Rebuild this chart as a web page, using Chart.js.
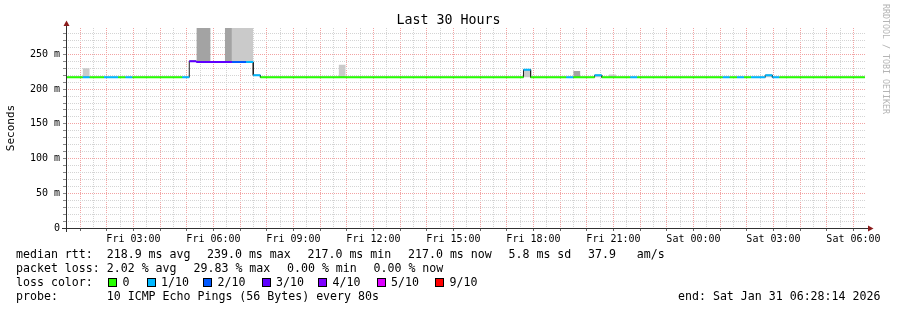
<!DOCTYPE html>
<html lang="en">
<head>
<meta charset="UTF-8">
<title>Last 30 Hours</title>
<script src="https://cdn.jsdelivr.net/npm/chart.js@4"></script>
<style>
  body { margin: 0; background: #fff; }
  #wrap { position: relative; width: 897px; height: 310px; font-family: 'DejaVu Sans Mono', monospace; }
  #wrap canvas { position: absolute; left: 0; top: 0; }
  .t { position: absolute; font-size: 11.6px; line-height: 14px; white-space: pre; color: #000; }
  .sw { position: absolute; top: 278px; width: 7px; height: 7px; border: 1px solid #000; }
  #title { position: absolute; left: 0; top: 12px; width: 897px; text-align: center; font-size: 13.3px; line-height: 16px; }
  #wm { position: absolute; left: 881px; top: 4px; writing-mode: vertical-rl; font-size: 8.3px; color: #b4b4b4; white-space: pre; }
</style>
</head>
<body>
<div id="wrap">
  <canvas id="pingChart" width="897" height="310"></canvas>
  <div id="title">Last 30 Hours</div>
  <div id="wm">RRDTOOL / TOBI OETIKER</div>

  <div class="t" style="left:16px;top:247px">median rtt:  218.9 ms avg</div>
  <div class="t" style="left:207px;top:247px">239.0 ms max</div>
  <div class="t" style="left:307.5px;top:247px">217.0 ms min</div>
  <div class="t" style="left:408px;top:247px">217.0 ms now</div>
  <div class="t" style="left:508.5px;top:247px">5.8 ms sd</div>
  <div class="t" style="left:588px;top:247px">37.9   am/s</div>

  <div class="t" style="left:16px;top:261px">packet loss: 2.02 % avg</div>
  <div class="t" style="left:193.5px;top:261px">29.83 % max</div>
  <div class="t" style="left:287px;top:261px">0.00 % min</div>
  <div class="t" style="left:373.5px;top:261px">0.00 % now</div>

  <div class="t" style="left:16px;top:275px">loss color:</div>
  <div id="lossLegend"></div>

  <div class="t" style="left:16px;top:289px">probe:       10 ICMP Echo Pings (56 Bytes) every 80s</div>
  <div class="t" style="left:678px;top:289px">end: Sat Jan 31 06:28:14 2026</div>
</div>

<script>
// time is in minutes after Fri 00:00, the graph shows the last 30 hours up to Sat 06:28:14
const viewStart = 28.23;
const viewEnd = 1828.23;

// median rtt: one entry per 16 min step where the value or the loss changes
const stepStart = [28.23, 65.6, 81.6, 113.6, 145.6, 161.6, 177.6, 289.6, 305.6, 321.6,
                   401.6, 433.6, 449.6, 465.6, 1057.6, 1073.6, 1153.6, 1169.6, 1217.6, 1233.6,
                   1297.6, 1313.6, 1505.6, 1521.6, 1537.6, 1553.6, 1569.6, 1601.6, 1617.6, 1633.6];
const dataEnd = 1825.6;
const medianMs = [217, 217, 217, 217, 217, 217, 217, 217, 240, 239,
                  239, 239, 220, 217, 228, 217, 217, 217, 220, 217,
                  217, 217, 217, 217, 217, 217, 217, 220, 217, 217];
const lossTenths = [0, 1, 0, 1, 0, 1, 0, 1, 3, 3,
                    2, 1, 1, 0, 1, 0, 1, 0, 1, 0,
                    1, 0, 1, 0, 1, 0, 1, 1, 1, 0];

// smoke (spread of the single pings) where it is visible
const smokeStart   = [65.6, 305.6, 321.6, 385.6, 401.6, 641.6, 1057.6, 1169.6, 1217.6, 1249.6, 1601.6];
const smokeEnd     = [81.6, 321.6, 353.6, 401.6, 449.6, 657.6, 1073.6, 1185.6, 1233.6, 1265.6, 1617.6];
const smokeLoMs    = [217, 240, 239, 239, 239, 217, 217, 217, 217, 217, 217];
const smokeHiMs    = [230, 242, 300, 300, 300, 235, 228, 226, 220, 221, 220];
const smokeDensity = [1, 1, 2, 2, 1, 1, 1, 2, 1, 1, 1];

// loss legend
const lossLevels = [0, 1, 2, 3, 4, 5, 9];
const lossLabels = ['0', '1/10', '2/10', '3/10', '4/10', '5/10', '9/10'];
const lossColors = ['#26ff00', '#00b8ff', '#0059ff', '#5e00ff', '#7e00ff', '#dd00ff', '#ff0000'];

const dayNames = ['Fri', 'Sat'];

// legend swatches
const swatchLeft = [108, 146.5, 203, 261.5, 318, 376.5, 435];
const legendBox = document.getElementById('lossLegend');
lossLabels.forEach((lbl, i) => {
    const sw = document.createElement('div');
    sw.className = 'sw';
    sw.style.left = swatchLeft[i] + 'px';
    sw.style.background = lossColors[i];
    legendBox.appendChild(sw);
    const tx = document.createElement('div');
    tx.className = 't';
    tx.style.left = (swatchLeft[i] + 14.5) + 'px';
    tx.style.top = '275px';
    tx.textContent = lbl;
    legendBox.appendChild(tx);
});

const datasets = [];

smokeStart.forEach((s, i) => {
    datasets.push({
        data: [{x: s, y: smokeHiMs[i]}, {x: smokeEnd[i], y: smokeHiMs[i]}],
        fill: {value: smokeLoMs[i]},
        backgroundColor: smokeDensity[i] > 1 ? '#a3a3a3' : '#cacaca',
        borderWidth: 0,
        pointRadius: 0,
        order: 3
    });
});

function stepEnd(i) {
    return i + 1 < stepStart.length ? stepStart[i + 1] : dataEnd;
}

// thin dark median line, gives the vertical steps
let medianPts = [];
stepStart.forEach((s, i) => {
    medianPts.push({x: s, y: medianMs[i]}, {x: stepEnd(i), y: medianMs[i]});
});
datasets.push({
    data: medianPts,
    borderColor: '#202020',
    borderWidth: 1,
    pointRadius: 0,
    fill: false,
    order: 2
});

// coloured median pieces by packet loss
lossLevels.forEach((lvl, k) => {
    let pts = [];
    stepStart.forEach((s, i) => {
        if (lossTenths[i] === lvl) {
            pts.push({x: s, y: medianMs[i]}, {x: stepEnd(i), y: medianMs[i]}, {x: stepEnd(i), y: null});
        }
    });
    if (pts.length) {
        datasets.push({
            data: pts,
            borderColor: lossColors[k],
            borderWidth: 2,
            pointRadius: 0,
            spanGaps: false,
            fill: false,
            order: 1
        });
    }
});

const axisArrows = {
    id: 'axisArrows',
    afterDatasetsDraw(chart) {
        const {ctx, chartArea: a} = chart;
        const xl = a.left + 0.5, yb = a.bottom + 0.5;
        ctx.save();
        ctx.strokeStyle = '#303030';
        ctx.lineWidth = 1;
        ctx.beginPath();
        ctx.moveTo(a.left - 4, yb);
        ctx.lineTo(a.right + 2, yb);
        ctx.moveTo(xl, a.bottom + 4);
        ctx.lineTo(xl, a.top - 2);
        ctx.stroke();
        ctx.fillStyle = '#8b1c1c';
        ctx.beginPath();
        ctx.moveTo(xl, a.top - 7.5);
        ctx.lineTo(xl - 3, a.top - 2);
        ctx.lineTo(xl + 3, a.top - 2);
        ctx.closePath();
        ctx.fill();
        ctx.beginPath();
        ctx.moveTo(a.right + 7.5, yb);
        ctx.lineTo(a.right + 2, yb - 3);
        ctx.lineTo(a.right + 2, yb + 3);
        ctx.closePath();
        ctx.fill();
        ctx.restore();
    }
};

Chart.defaults.font.family = "'DejaVu Sans Mono', monospace";
Chart.defaults.color = '#000';

new Chart(document.getElementById('pingChart'), {
    type: 'line',
    data: { datasets: datasets },
    plugins: [axisArrows],
    options: {
        responsive: false,
        animation: false,
        events: [],
        layout: { padding: { left: 0, right: 31, top: 28, bottom: 0 } },
        plugins: {
            legend: { display: false },
            tooltip: { enabled: false }
        },
        scales: {
            x: {
                type: 'linear',
                min: viewStart,
                max: viewEnd,
                afterBuildTicks: (scale) => {
                    let t = [];
                    for (let v = Math.ceil(viewStart / 30) * 30; v <= viewEnd; v += 30) t.push({value: v});
                    scale.ticks = t;
                },
                afterFit: (scale) => { scale.height = 82; },
                grid: {
                    color: (c) => c.tick.value % 60 === 0 ? '#f2a3a3' : '#d4d4d4',
                    tickColor: (c) => c.tick.value % 60 === 0 ? '#666' : 'rgba(0,0,0,0)',
                    tickLength: 3
                },
                border: { display: false, dash: [1, 1] },
                ticks: {
                    autoSkip: false,
                    maxRotation: 0,
                    padding: 2,
                    font: { size: 10 },
                    callback: (v) => {
                        if (v % 180 !== 0) return '';
                        const d = Math.floor(v / 1440);
                        const h = Math.floor((v % 1440) / 60);
                        return dayNames[d] + ' ' + String(h).padStart(2, '0') + ':00';
                    }
                }
            },
            y: {
                min: 0,
                max: 288,
                afterBuildTicks: (scale) => {
                    let t = [];
                    for (let v = 0; v <= 280; v += 10) t.push({value: v});
                    scale.ticks = t;
                },
                afterFit: (scale) => { scale.width = 66; },
                grid: {
                    color: (c) => c.tick.value % 50 === 0 ? '#f2a3a3' : '#d4d4d4',
                    tickColor: '#888',
                    tickLength: 3
                },
                border: { display: false, dash: [1, 1] },
                title: {
                    display: true,
                    text: 'Seconds',
                    font: { size: 11 },
                    padding: { top: 5, bottom: 0 }
                },
                ticks: {
                    autoSkip: false,
                    padding: 3,
                    font: { size: 10 },
                    callback: (v) => v % 50 !== 0 ? '' : (v === 0 ? '0' : v + ' m')
                }
            }
        }
    }
});
</script>
</body>
</html>
